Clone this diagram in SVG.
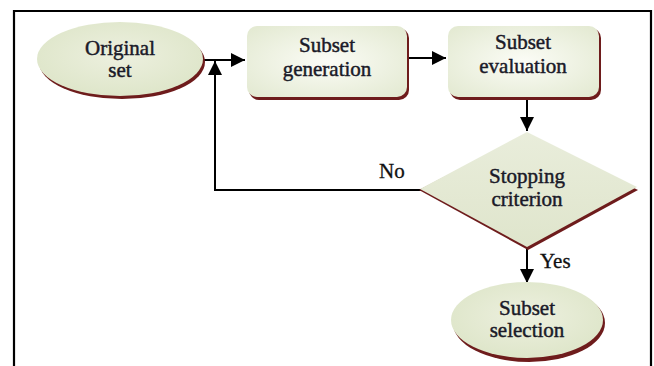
<svg xmlns="http://www.w3.org/2000/svg" width="654" height="366" viewBox="0 0 654 366">
<defs>
<radialGradient id="gEll" cx="50%" cy="45%" r="60%">
<stop offset="0" stop-color="#edf0df"/>
<stop offset="1" stop-color="#dde5c8"/>
</radialGradient>
<radialGradient id="gRect" cx="50%" cy="50%" r="65%">
<stop offset="0" stop-color="#fbfcf6"/>
<stop offset="1" stop-color="#e4ead3"/>
</radialGradient>
<linearGradient id="gDia" x1="0" y1="0" x2="0" y2="1">
<stop offset="0" stop-color="#e9eddb"/>
<stop offset="1" stop-color="#dfe5cc"/>
</linearGradient>
<marker id="ahBig" viewBox="0 0 12 12" refX="12" refY="6" markerWidth="14" markerHeight="14" markerUnits="userSpaceOnUse" orient="auto">
<path d="M0,0 L12,6 L0,12 z" fill="#000"/>
</marker>
</defs>
<style>
.t{font-family:"Liberation Serif","Times New Roman",serif;font-size:21px;fill:#1a1a28;stroke:#1a1a28;stroke-width:0.45;text-anchor:middle}
.lbl{font-family:"Liberation Serif","Times New Roman",serif;font-size:21px;fill:#111;stroke:#111;stroke-width:0.3}
.sh{fill:#6e1c1c}
.ln{stroke:#000;stroke-width:2;fill:none}
</style>
<rect x="0" y="0" width="654" height="366" fill="#fff"/>
<path d="M14,366 L14,11 L651,11 L651,366" fill="none" stroke="#000" stroke-width="2.2"/>

<g id="connectors">
<line class="ln" x1="202" y1="60" x2="245" y2="60" marker-end="url(#ahBig)"/>
<line class="ln" x1="407" y1="58" x2="446" y2="58" marker-end="url(#ahBig)"/>
<line class="ln" x1="527" y1="98" x2="527" y2="131" marker-end="url(#ahBig)"/>
<polyline class="ln" points="421,190 215,190 215,61" marker-end="url(#ahBig)"/>
<line class="ln" x1="527" y1="248" x2="527" y2="283" marker-end="url(#ahBig)"/>
<text class="lbl" x="379" y="178">No</text>
<text class="lbl" x="540" y="268">Yes</text>
</g>

<g id="original-set">
<ellipse class="sh" cx="122" cy="62" rx="83" ry="37"/>
<ellipse cx="120" cy="59" rx="83" ry="37" fill="url(#gEll)"/>
<text class="t" x="120" y="55">Original</text>
<text class="t" x="120" y="77">set</text>
</g>

<g id="subset-generation">
<rect class="sh" x="249" y="28" width="160" height="72" rx="10"/>
<rect x="247" y="26" width="160" height="71" rx="10" fill="url(#gRect)"/>
<text class="t" x="327" y="52">Subset</text>
<text class="t" x="327" y="76">generation</text>
</g>

<g id="subset-evaluation">
<rect class="sh" x="450" y="28" width="151" height="72" rx="10"/>
<rect x="448" y="26" width="151" height="71" rx="10" fill="url(#gRect)"/>
<text class="t" x="523" y="49">Subset</text>
<text class="t" x="523" y="73">evaluation</text>
</g>

<g id="stopping-criterion">
<polygon class="sh" points="527,134 638,190 528,250 419,190"/>
<polygon points="527,132 637,187 527,247 420,189" fill="url(#gDia)"/>
<text class="t" x="527" y="183">Stopping</text>
<text class="t" x="527" y="206">criterion</text>
</g>

<g id="subset-selection">
<ellipse class="sh" cx="529" cy="323" rx="76" ry="39"/>
<ellipse cx="527" cy="320" rx="76" ry="38" fill="url(#gEll)"/>
<text class="t" x="527" y="315">Subset</text>
<text class="t" x="527" y="337">selection</text>
</g>
</svg>
